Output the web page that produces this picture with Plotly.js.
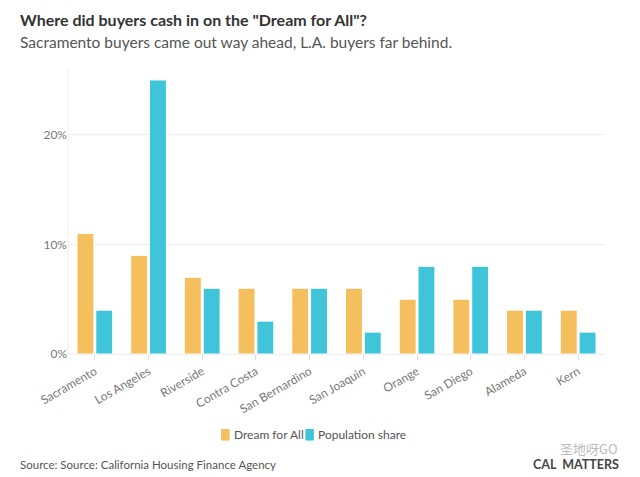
<!DOCTYPE html>
<html><head><meta charset="utf-8">
<script src="https://cdn.plot.ly/plotly-3.0.1.min.js"></script>
<style>html,body{margin:0;padding:0;background:#fff;}#chart{width:640px;height:477px;}</style>
</head><body><div id="chart"></div>
<script>
const counties = ["Sacramento","Los Angeles","Riverside","Contra Costa","San Bernardino","San Joaquin","Orange","San Diego","Alameda","Kern"];
const dreamForAll = [11, 9, 7, 6, 6, 6, 5, 5, 4, 4];
const populationShare = [4, 25, 6, 3, 6, 2, 8, 8, 4, 2];
const seriesNames = ["Dream for All", "Population share"];
const seriesColors = ["#f5bf5e", "#40c4da"];
const yTickVals = [0, 10, 20];
const yTickText = ["0%", "10%", "20%"];

const font = "Lato, 'Source Sans Pro', 'Open Sans', sans-serif";
const traces = [
  {type:"bar", name:seriesNames[0], x:counties, y:dreamForAll,
   marker:{color:seriesColors[0], line:{color:"#ffffff", width:1}}, hoverinfo:"skip"},
  {type:"bar", name:seriesNames[1], x:counties, y:populationShare,
   marker:{color:seriesColors[1], line:{color:"#ffffff", width:1}}, hoverinfo:"skip"}
];

function roundedSquare(x0, x1, y0, y1, color) {
  return {type:"rect", xref:"paper", yref:"paper", x0:x0, x1:x1, y0:y0, y1:y1,
          fillcolor:color, line:{color:color, width:1}};
}

const layout = {
  width:640, height:477,
  margin:{l:68, r:35, t:69, b:123},
  paper_bgcolor:"#fff", plot_bgcolor:"#fff",
  font:{family:font, color:"#666", size:12},
  barmode:"group", bargap:0.3, bargroupgap:0.1,
  showlegend:false,
  xaxis:{tickangle:-30, ticks:"outside", ticklen:5, tickcolor:"#ddd",
         showline:true, linecolor:"#eee", tickfont:{size:12, color:"#777"}, fixedrange:true},
  yaxis:{range:[0,26], tickvals:yTickVals, ticktext:yTickText, showgrid:true, gridcolor:"#eee",
         zeroline:false, tickfont:{size:12, color:"#777"}, ticks:"", fixedrange:true},
  shapes:[
    {type:"line", xref:"paper", yref:"paper", x0:0, x1:0, y0:0, y1:1, line:{color:"#eee", width:1}},
    roundedSquare(0.286, 0.300, -0.265, -0.302, seriesColors[0]),
    roundedSquare(0.443, 0.457, -0.265, -0.302, seriesColors[1])
  ],
  annotations:[
    {text:"<b>Where did buyers cash in on the \"Dream for All\"?</b>", xref:"paper", yref:"paper", x:-0.093, y:1.172,
     xanchor:"left", yanchor:"middle", showarrow:false, font:{size:16, color:"#333", family:font}},
    {text:"Sacramento buyers came out way ahead, L.A. buyers far behind.", xref:"paper", yref:"paper", x:-0.093, y:1.095,
     xanchor:"left", yanchor:"middle", showarrow:false, font:{size:15.5, color:"#555", family:font}},
    {text:seriesNames[0], xref:"paper", yref:"paper", x:0.305, y:-0.284,
     xanchor:"left", yanchor:"middle", showarrow:false, font:{size:12, color:"#555", family:font}},
    {text:seriesNames[1], xref:"paper", yref:"paper", x:0.462, y:-0.284,
     xanchor:"left", yanchor:"middle", showarrow:false, font:{size:12, color:"#555", family:font}},
    {text:"Source: Source: California Housing Finance Agency", xref:"paper", yref:"paper", x:-0.093, y:-0.386,
     xanchor:"left", yanchor:"middle", showarrow:false, font:{size:11.5, color:"#555", family:font}},
    {text:"<b>CAL  MATTERS</b>", xref:"paper", yref:"paper", x:1.03, y:-0.386,
     xanchor:"right", yanchor:"middle", showarrow:false, font:{size:12.5, color:"#444", family:font}},
    {text:"圣地呀GO", xref:"paper", yref:"paper", x:1.028, y:-0.333,
     xanchor:"right", yanchor:"middle", showarrow:false, font:{size:13, color:"#bbb", family:"'Noto Sans CJK SC', sans-serif"}}
  ]
};
Plotly.newPlot("chart", traces, layout, {displayModeBar:false, staticPlot:true});
</script></body></html>
